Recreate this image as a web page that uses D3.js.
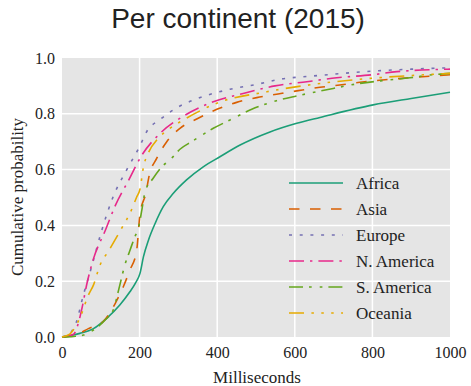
<!DOCTYPE html>
<html><head><meta charset="utf-8">
<script src="https://cdn.jsdelivr.net/npm/d3@7/dist/d3.min.js"></script>
<style>body{margin:0;background:#fff}svg{display:block}</style>
</head><body>
<svg id="chart" width="471" height="386"></svg>
<script>
const continents = ["Africa","Asia","Europe","N. America","S. America","Oceania"];
const colors = ["#1b9e77","#d95f02","#7570b3","#e7298a","#66a61e","#e6ab02"];
const dashes = ["", "10.5,10.5", "3,7.7", "15,6,2.4,6", "14,6,2.7,8,2.7,6", "15,7.4,2.5,7.4,2.5,7.4,2.5,7.4"];
const xTicks = [0,200,400,600,800,1000];
const yTicks = [0.0,0.2,0.4,0.6,0.8,1.0];

const africa = [[0,0],[20,0.005],[46,0.013],[81,0.03],[115,0.067],[149,0.115],[175,0.162],[190,0.195],[201,0.228],[210,0.288],[223,0.348],[240,0.407],[261,0.467],[287,0.515],[321,0.563],[364,0.61],[407,0.646],[459,0.688],[536,0.735],[605,0.766],[665,0.787],[802,0.832],[900,0.855],[1000,0.877]];
const asia = [[0,0],[12,0.001],[40,0.01],[68,0.03],[106,0.055],[137,0.12],[158,0.18],[175,0.24],[192,0.306],[201,0.44],[216,0.515],[225,0.58],[244,0.64],[270,0.70],[304,0.748],[351,0.784],[399,0.816],[450,0.841],[502,0.858],[557,0.871],[609,0.883],[665,0.895],[716,0.903],[768,0.913],[875,0.927],[1000,0.94]];
const europe = [[0,0],[20,0.01],[25,0.02],[36,0.05],[55,0.15],[76,0.25],[102,0.38],[131,0.50],[167,0.60],[199,0.68],[220,0.74],[253,0.78],[300,0.825],[350,0.855],[433,0.888],[500,0.905],[562,0.924],[643,0.935],[700,0.942],[802,0.953],[900,0.96],[1000,0.965]];
const nAmerica = [[0,0],[30,0.01],[40,0.04],[51,0.10],[64,0.19],[81,0.28],[111,0.38],[137,0.47],[171,0.56],[205,0.65],[253,0.73],[317,0.795],[390,0.843],[467,0.873],[549,0.90],[631,0.915],[708,0.929],[800,0.94],[863,0.951],[1000,0.96]];
const sAmerica = [[0,0],[30,0.002],[55,0.007],[81,0.025],[111,0.061],[132,0.097],[149,0.186],[162,0.258],[175,0.31],[188,0.36],[197,0.39],[205,0.449],[214,0.52],[235,0.569],[257,0.61],[278,0.634],[304,0.673],[334,0.70],[390,0.748],[433,0.778],[489,0.816],[553,0.847],[605,0.864],[656,0.879],[699,0.891],[768,0.909],[820,0.918],[897,0.929],[948,0.939],[1000,0.945]];
const oceania = [[0,0],[20,0.01],[29,0.025],[46,0.068],[68,0.15],[81,0.186],[98,0.258],[119,0.306],[158,0.40],[175,0.443],[192,0.50],[201,0.53],[210,0.61],[222,0.658],[248,0.712],[278,0.748],[313,0.778],[399,0.838],[528,0.879],[656,0.907],[794,0.927],[923,0.939],[1000,0.945]];
const seriesData = [africa, asia, europe, nAmerica, sAmerica, oceania];

const svg = d3.select("#chart");
const L = 62, R = 450, T = 58, B = 337;
const x = d3.scaleLinear().domain([0,1000]).range([L,R]);
const y = d3.scaleLinear().domain([0,1]).range([B,T]);
const serif = "'Liberation Serif', 'Times New Roman', serif";

svg.append("rect").attr("x",L).attr("y",T).attr("width",R-L).attr("height",B-T).attr("fill","#e5e5e5");

// grid
svg.append("g").selectAll("line").data(xTicks.filter(d=>d>0&&d<1000)).join("line")
  .attr("x1",d=>x(d)).attr("x2",d=>x(d)).attr("y1",T).attr("y2",B)
  .attr("stroke","#fff").attr("stroke-width",1.5);
svg.append("g").selectAll("line").data(yTicks.filter(d=>d>0&&d<1)).join("line")
  .attr("y1",d=>y(d)).attr("y2",d=>y(d)).attr("x1",L).attr("x2",R)
  .attr("stroke","#fff").attr("stroke-width",1.5);

// axes
const xAxis = svg.append("g").attr("transform",`translate(0,${B})`)
  .call(d3.axisBottom(x).tickValues(xTicks).tickFormat(d3.format("d")).tickSize(0).tickPadding(10));
const yAxis = svg.append("g").attr("transform",`translate(${L},0)`)
  .call(d3.axisLeft(y).tickValues(yTicks).tickFormat(d3.format(".1f")).tickSize(0).tickPadding(7));
[xAxis,yAxis].forEach(a=>{
  a.select(".domain").remove();
  a.selectAll("text").attr("font-family",serif).attr("font-size",16).attr("fill","#222");
});

// lines
const line = d3.line().x(d=>x(d[0])).y(d=>y(d[1])).curve(d3.curveMonotoneX);
svg.append("g").selectAll("path").data(seriesData).join("path")
  .attr("d",line).attr("fill","none")
  .attr("stroke",(d,i)=>colors[i]).attr("stroke-width",1.6)
  .attr("stroke-dasharray",(d,i)=>dashes[i]||null);

// legend
const lg = svg.append("g");
continents.forEach((c,i)=>{
  const yy = 183 + i*26;
  lg.append("line").attr("x1",289).attr("x2",343).attr("y1",yy).attr("y2",yy)
    .attr("stroke",colors[i]).attr("stroke-width",1.6).attr("stroke-dasharray",dashes[i]||null);
  lg.append("text").attr("x",356).attr("y",yy+5.5).text(c)
    .attr("font-family",serif).attr("font-size",17).attr("fill","#222");
});

// labels
svg.append("text").attr("x",238).attr("y",28).attr("text-anchor","middle")
  .attr("font-family","'Liberation Sans', Arial, sans-serif").attr("font-size",28).attr("fill","#222")
  .text("Per continent (2015)");
svg.append("text").attr("x",257).attr("y",383).attr("text-anchor","middle")
  .attr("font-family",serif).attr("font-size",17).attr("fill","#222").text("Milliseconds");
svg.append("text").attr("transform","translate(23,197) rotate(-90)").attr("text-anchor","middle")
  .attr("font-family",serif).attr("font-size",17).attr("fill","#222").text("Cumulative probability");
</script>
</body></html>
